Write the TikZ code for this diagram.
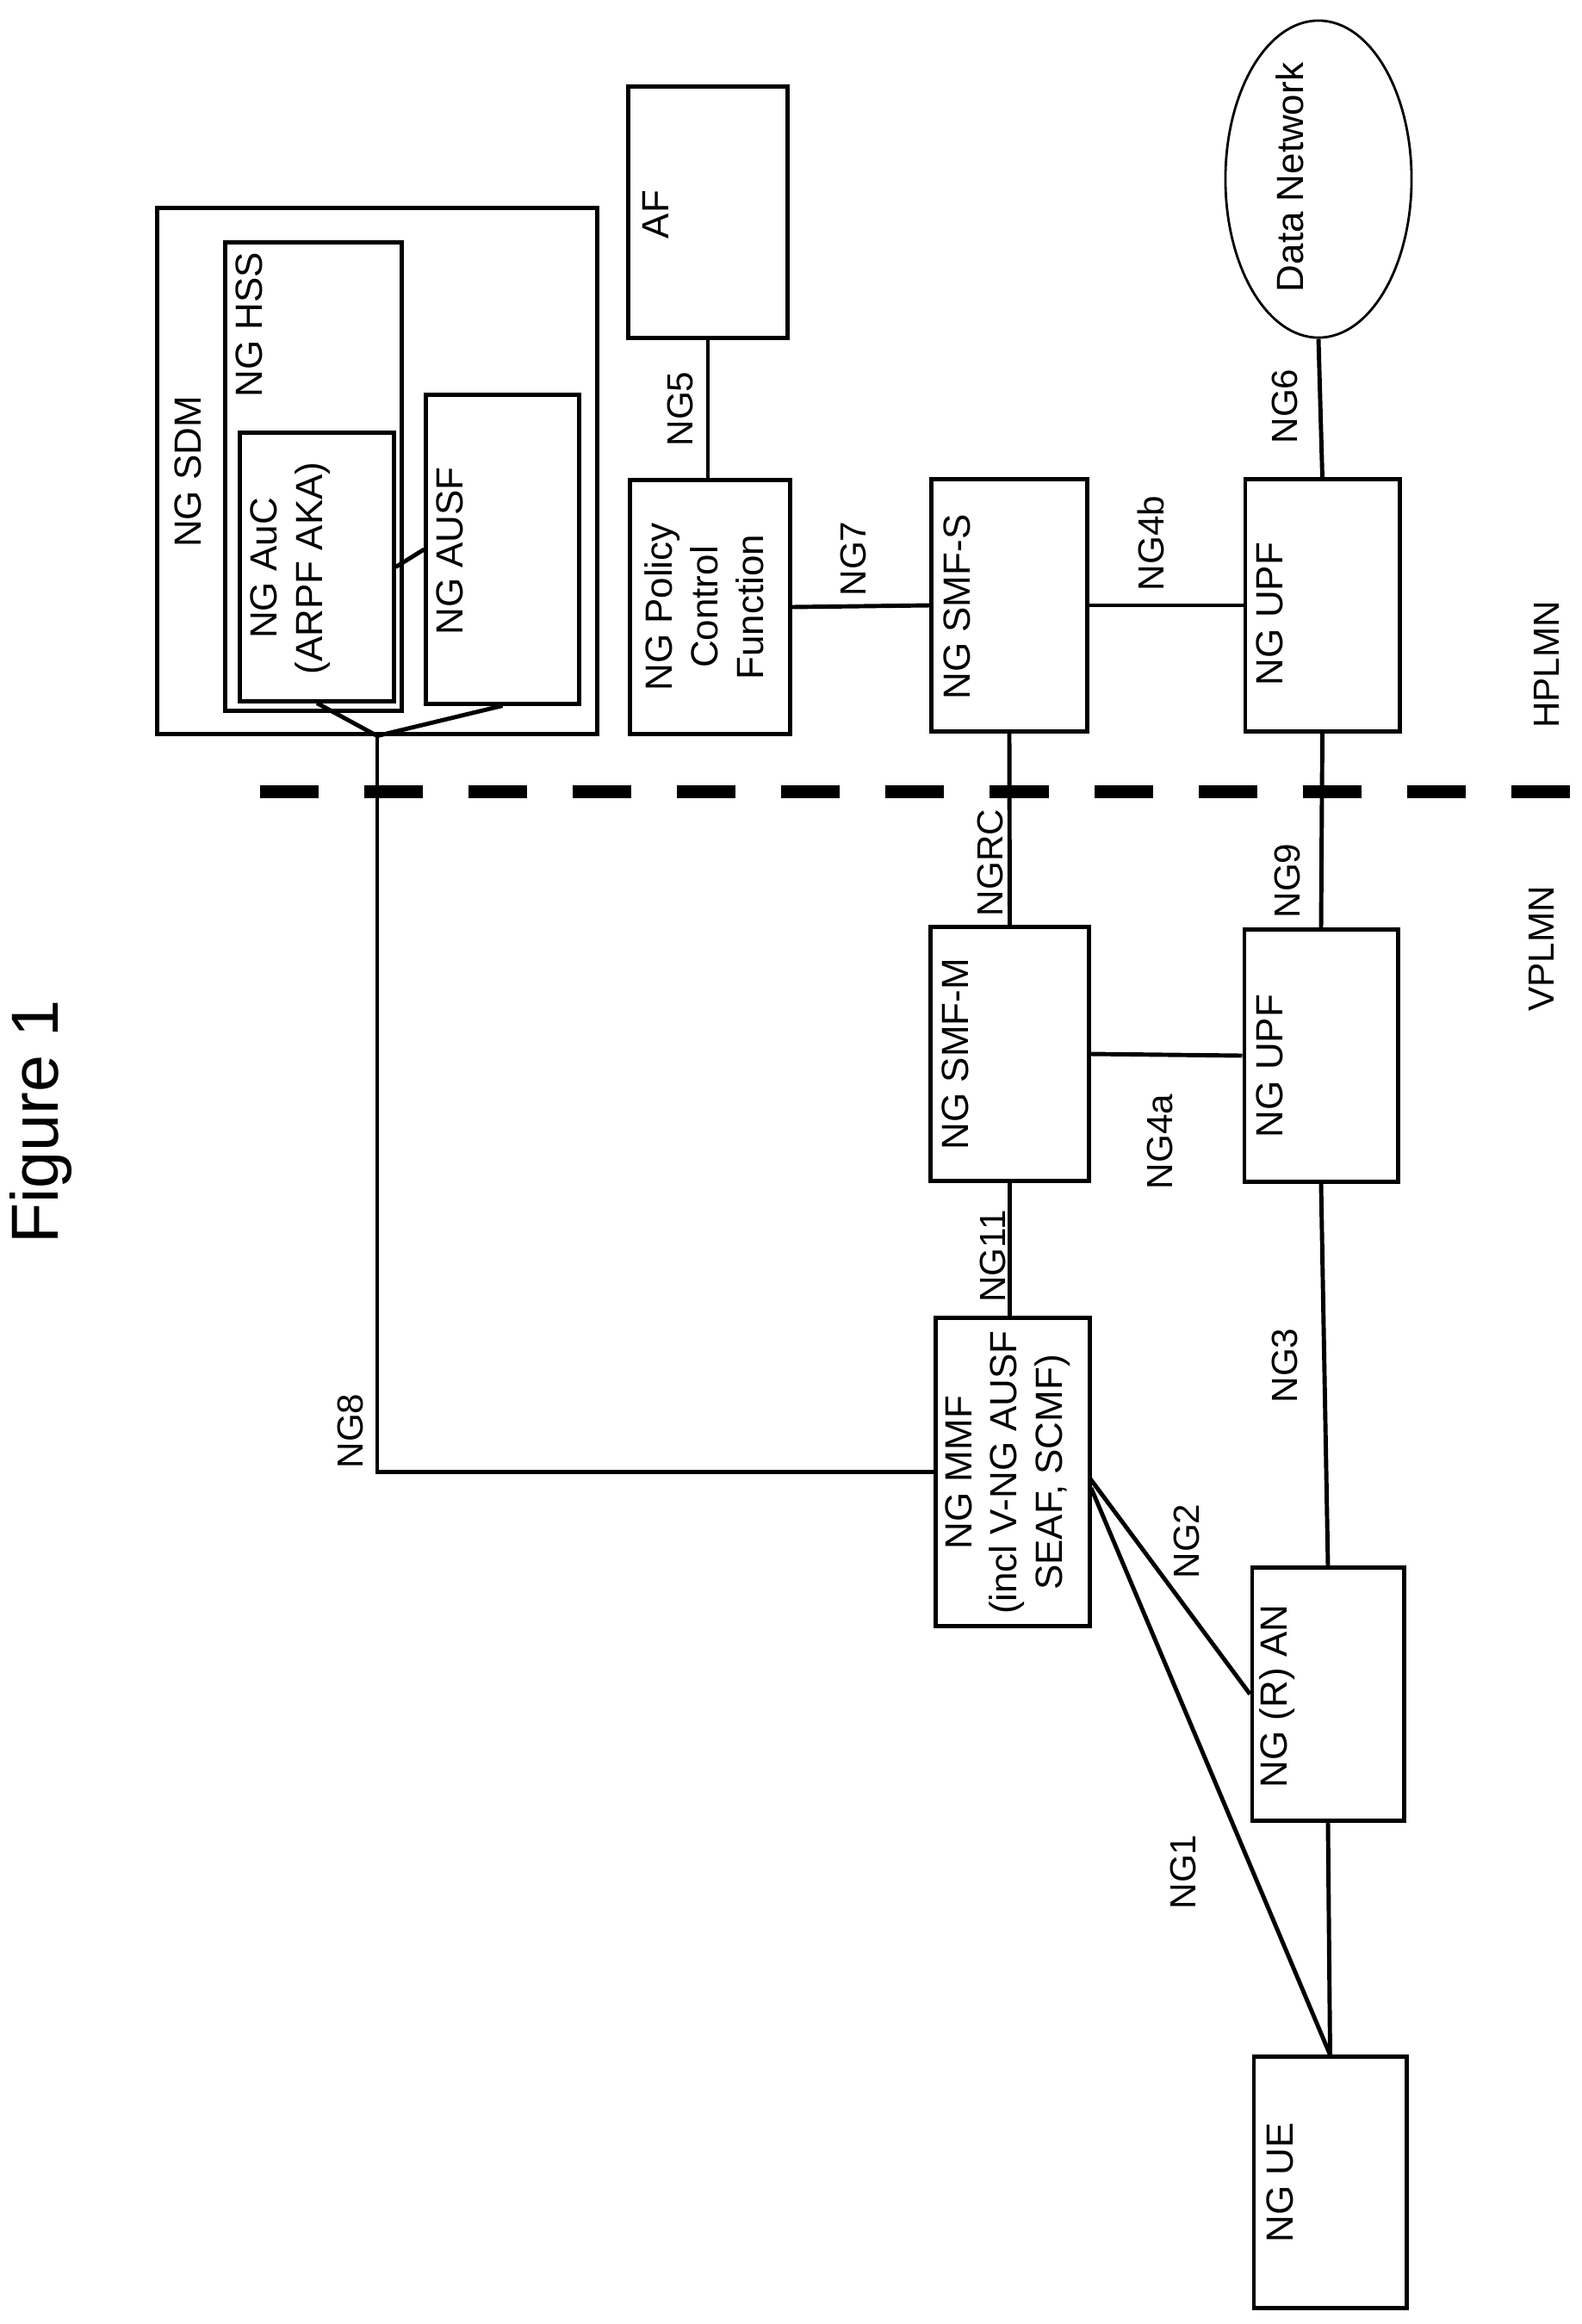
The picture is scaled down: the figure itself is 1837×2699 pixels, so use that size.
\documentclass[tikz,border=0pt]{standalone}
\usepackage{fontspec}
\setmainfont{Liberation Sans}
\usetikzlibrary{shapes.geometric,positioning,calc}

\begin{document}
\begin{tikzpicture}[
    x=0.01cm, y=-0.01cm,
    box/.style={rectangle, draw, line width=1.4pt, inner sep=0pt},
    cloud/.style={ellipse, draw, line width=0.8pt, inner sep=0pt},
    txt/.style={rotate=90, font=\fontsize{12.5}{15}\selectfont, align=center, inner sep=0pt},
    iface/.style={rotate=90, font=\fontsize{12}{14}\selectfont, inner sep=0pt},
    link/.style={line width=1.4pt}
]
\useasboundingbox (0,0) rectangle (1837,2699);

% Home network functions
\node[box, minimum width=5.10cm, minimum height=6.10cm] (sdm) at (438,547) {};
\node[box, minimum width=2.04cm, minimum height=5.43cm] (hss) at (364,553.5) {};
\node[box, minimum width=1.78cm, minimum height=3.11cm] (auc) at (368,658.5) {};
\node[box, minimum width=1.77cm, minimum height=3.58cm] (ausf) at (583.5,638) {};
\node[box, minimum width=1.84cm, minimum height=2.91cm] (af) at (822,246.5) {};
\node[box, minimum width=1.85cm, minimum height=2.94cm] (pcf) at (824.5,705) {};
\node[box, minimum width=1.80cm, minimum height=2.92cm] (smfs) at (1172,703) {};
\node[box, minimum width=1.79cm, minimum height=2.92cm] (upfh) at (1535.5,703) {};
\node[cloud, minimum width=2.16cm, minimum height=3.68cm] (dn) at (1531,208) {};

% Visited network functions
\node[box, minimum width=1.83cm, minimum height=2.94cm] (smfm) at (1172.5,1224) {};
\node[box, minimum width=1.78cm, minimum height=2.92cm] (upfv) at (1534,1226) {};
\node[box, minimum width=1.78cm, minimum height=3.57cm] (mmf) at (1176,1709.5) {};
\node[box, minimum width=1.76cm, minimum height=2.93cm] (an) at (1542,1967.5) {};
\node[box, minimum width=1.77cm, minimum height=2.91cm] (ue) at (1544.5,2534.5) {};

% Box texts
\node[txt] (sdmtxt) at (218,548) {NG SDM};
\node[txt] (hsstxt) at (289,377) {NG HSS};
\node[txt] (auctxt) at (337,660) {NG AuC\\(ARPF AKA)};
\node[txt] (ausftxt) at (522,640) {NG AUSF};
\node[txt] (aftxt) at (761,249) {AF};
\node[txt, baseline] (pcftxt) at (818,705) {NG Policy\\Control\\Function};
\node[txt] (smfstxt) at (1111,705) {NG SMF-S};
\node[txt] (upfhtxt) at (1474,713) {NG UPF};
\node[txt] (dntxt) at (1498,206) {Data Network};
\node[txt] (smfmtxt) at (1109,1224) {NG SMF-M};
\node[txt] (upfvtxt) at (1474,1238) {NG UPF};
\node[txt] (mmftxt) at (1170,1710) {NG MMF\\(incl V-NG AUSF\\SEAF, SCMF)};
\node[txt] (antxt) at (1483,1970) {NG (R) AN};
\node[txt] (uetxt) at (1486,2535) {NG UE};

% Title and network labels
\node[rotate=90, font=\fontsize{22}{26}\selectfont] (title) at (47,1303) {Figure 1};
\node[iface] (hplmn) at (1796,772) {HPLMN};
\node[iface] (vplmn) at (1790,1102) {VPLMN};

% Border between HPLMN and VPLMN
\draw[line width=0.15cm, dash pattern=on 0.68cm off 0.53cm] (302,919) -- (1837,919);

% Interfaces
\coordinate (mmfa) at (1265,1716);
\coordinate (mmfb) at (1267,1728);
\draw[link] (af.south) -- (af.south |- pcf.north);
\draw[link] (pcf.east) -- (smfs.west);
\draw[link] (smfs.east) -- (upfh.west);
\draw[link] (dn.south) -- (upfh.north);
\draw[link] (smfs.south) -- (smfm.north);
\draw[link] (upfh.south) -- (upfv.north);
\draw[link] (smfm.east) -- (upfv.west);
\draw[link] (smfm.south) -- (smfm.south |- mmf.north);
\draw[link] (upfv.south) -- (an.north);
\draw[link] (an.south) -- (ue.north);
\draw[link] (mmfa) -- (an.west);
\draw[link] (mmfb) -- (ue.north);
\draw[link] (auc.east) -- (ausf.west);
\draw[link] (auc.south) -- (sdm.south) -- (ausf.south);
\draw[link] (sdm.south) |- (mmf.west);

% Interface labels
\node[iface] (ng5) at (790,475) {NG5};
\node[iface] (ng7) at (991,649) {NG7};
\node[iface] (ng4b) at (1336,631) {NG4b};
\node[iface] (ng6) at (1492,472) {NG6};
\node[iface] (ngrc) at (1150,1002) {NGRC};
\node[iface] (ng9) at (1495,1023) {NG9};
\node[iface] (ng4a) at (1347,1326) {NG4a};
\node[iface] (ng11) at (1153,1459) {NG11};
\node[iface] (ng3) at (1492,1586) {NG3};
\node[iface] (ng2) at (1378,1790) {NG2};
\node[iface] (ng1) at (1374,2174) {NG1};
\node[iface] (ng8) at (407,1662) {NG8};

\end{tikzpicture}
\end{document}
